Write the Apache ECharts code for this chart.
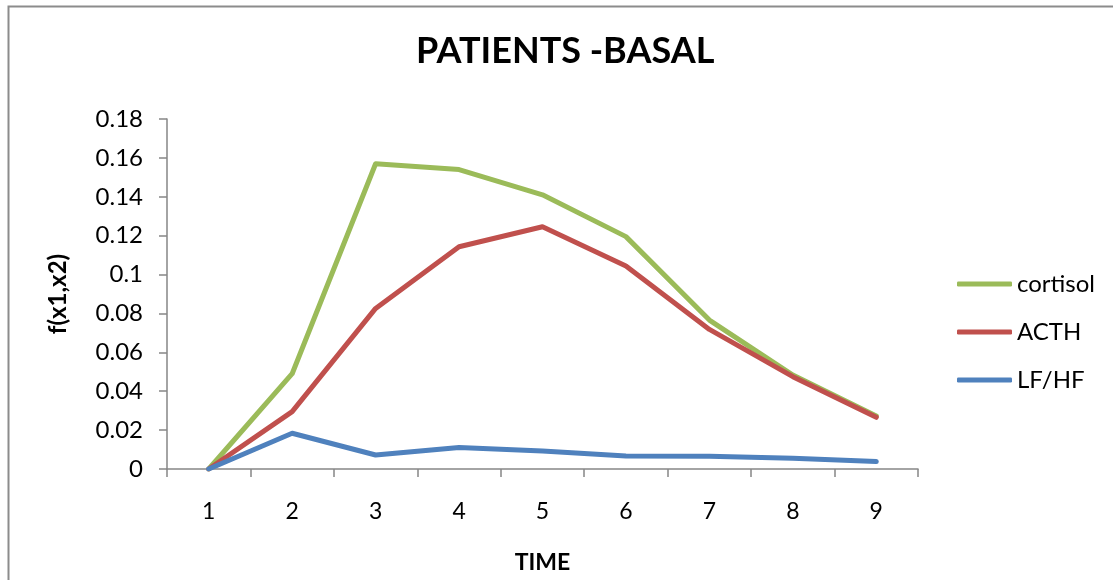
<!DOCTYPE html>
<html>
<head>
<meta charset="utf-8">
<script src="https://cdn.jsdelivr.net/npm/echarts@6/dist/echarts.min.js"></script>
<style>
html,body{margin:0;padding:0;background:#fff;}
#chart{width:1113px;height:580px;}
</style>
</head>
<body>
<div id="chart"></div>
<script>
var categories = ['1','2','3','4','5','6','7','8','9'];
var cortisol = [0, 0.049, 0.157, 0.154, 0.141, 0.1195, 0.0766, 0.0483, 0.0273];
var acth = [0, 0.0295, 0.0826, 0.1143, 0.1246, 0.1044, 0.0718, 0.0475, 0.0266];
var lfhf = [0, 0.0184, 0.0072, 0.0111, 0.0093, 0.0067, 0.0066, 0.0055, 0.0038];
var seriesNames = ['cortisol', 'ACTH', 'LF/HF'];
var colors = ['#9BBB59', '#C0504D', '#4F81BD'];

var FONT = 'Lato';
var chart = echarts.init(document.getElementById('chart'), null, {renderer: 'canvas'});
function mk(name, data, color) {
  return {
    name: name, type: 'line', data: data, symbol: 'none', showSymbol: false,
    smooth: false, animation: false,
    lineStyle: {color: color, width: 5, cap: 'round', join: 'round'},
    itemStyle: {color: color}
  };
}
chart.setOption({
  animation: false,
  backgroundColor: '#fff',
  title: {
    text: 'PATIENTS -BASAL', left: 416, top: 33, padding: 0,
    textStyle: {fontFamily: FONT, fontWeight: 'bold', fontSize: 36, color: '#000'}
  },
  graphic: [{
    type: 'rect', shape: {x: 8.5, y: 6.5, width: 1300, height: 800},
    style: {fill: 'none', stroke: '#8c8c8c', lineWidth: 2}, silent: true
  }],
  legend: {
    orient: 'vertical', left: 957, top: 272, padding: 0,
    icon: 'roundRect', itemWidth: 55, itemHeight: 5, itemGap: 24,
    textStyle: {fontFamily: FONT, fontSize: 24, color: '#000', lineHeight: 24},
    data: seriesNames
  },
  grid: {left: 167, right: 195, top: 119, bottom: 111, containLabel: false},
  xAxis: {
    type: 'category', data: categories, boundaryGap: true,
    name: 'TIME', nameLocation: 'middle', nameGap: 82,
    nameTextStyle: {fontFamily: FONT, fontWeight: 'bold', fontSize: 23, color: '#000'},
    axisLine: {lineStyle: {color: '#868686', width: 1.5}},
    axisTick: {show: true, length: 8, inside: false, alignWithLabel: false, lineStyle: {color: '#868686', width: 1.5}},
    axisLabel: {fontFamily: FONT, fontSize: 23, color: '#000', margin: 31},
    splitLine: {show: false}
  },
  yAxis: {
    type: 'value', min: 0, max: 0.18, interval: 0.02,
    name: 'f(x1,x2)', nameLocation: 'middle', nameGap: 97, nameRotate: 90,
    nameTextStyle: {fontFamily: FONT, fontWeight: 'bold', fontSize: 24, color: '#000'},
    axisLine: {show: true, lineStyle: {color: '#868686', width: 1.5}},
    axisTick: {show: true, length: 8, inside: false, lineStyle: {color: '#868686', width: 1.5}},
    axisLabel: {fontFamily: FONT, fontSize: 24, color: '#000', margin: 24,
      formatter: function (v) { return String(Math.round(v * 100) / 100); }},
    splitLine: {show: false}
  },
  series: [
    mk(seriesNames[0], cortisol, colors[0]),
    mk(seriesNames[1], acth, colors[1]),
    mk(seriesNames[2], lfhf, colors[2])
  ]
});
</script>
</body>
</html>
